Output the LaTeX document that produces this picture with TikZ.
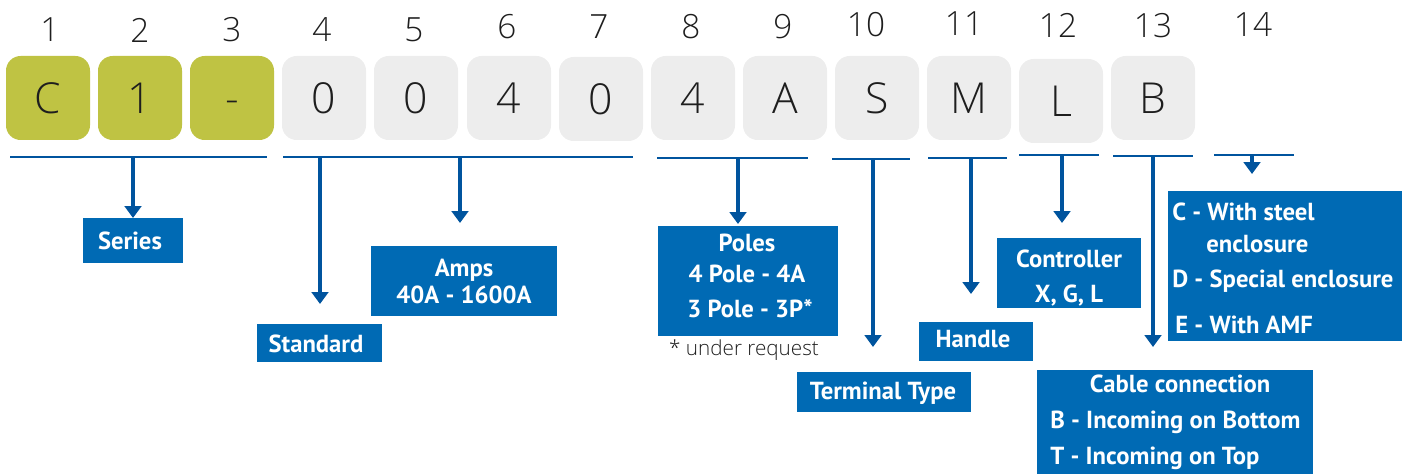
\documentclass[tikz,border=0pt]{standalone}
\usepackage{fontspec}
\setmainfont{PT Sans}
\IfFontExistsTF{Open Sans Light}{\newfontfamily\lightfont{Open Sans Light}}{%
  \IfFontExistsTF{Lato Light}{\newfontfamily\lightfont{Lato Light}}{%
    \IfFontExistsTF{DejaVu Sans ExtraLight}{\newfontfamily\lightfont{DejaVu Sans ExtraLight}}{%
      \newfontfamily\lightfont{Open Sans}}}}
\usetikzlibrary{arrows.meta}
\definecolor{kgreen}{RGB}{191,195,67}
\definecolor{kgray}{RGB}{237,237,237}
\definecolor{lblue}{RGB}{0,106,180}
\definecolor{ablue}{RGB}{0,84,158}
\definecolor{tgray}{RGB}{30,30,30}
\begin{document}
\begin{tikzpicture}[x=0.75pt,y=-0.75pt,
  digit/.style={font=\lightfont\fontsize{25}{25}\selectfont, text=tgray, inner sep=0pt},
  keybox/.style={rounded corners=11pt, minimum width=63pt, minimum height=63pt, inner sep=0pt,
    text height=23pt, text depth=0pt,
    font=\lightfont\fontsize{32}{32}\selectfont, text=tgray},
  keyg/.style={keybox, fill=kgreen},
  keyw/.style={keybox, fill=kgray},
  lbl/.style={fill=lblue, inner sep=0pt},
  ltxt/.style={text=white, font=\bfseries\fontsize{18.5}{21}\selectfont, inner sep=0pt, anchor=base},
  ltxtw/.style={ltxt, anchor=base west},
  bar/.style={draw=ablue, line width=1.5pt},
  drop/.style={draw=ablue, line width=2.6pt, -{Triangle[width=12.5pt,length=9pt]}},
]
\useasboundingbox (0,0) rectangle (1408,474);

% position numbers
\foreach \n/\x/\y in {1/50/30,2/140/30,3/232/30,4/322/30,5/414/30,6/507/27,7/599/27,8/691/27,9/783/27,10/866/25,11/964/24,12/1058/25,13/1153/26,14/1253/25}
  \node[digit] (num\n) at (\x,\y) {\n};

% key boxes
\node[keyg] (k1) at (48,98) {C};
\node[keyg] (k2) at (140,98) {1};
\node[keyg] (k3) at (232,98) {-};
\node[keyw] (k4) at (324,98) {0};
\node[keyw] (k5) at (416,98) {0};
\node[keyw] (k6) at (509,98) {4};
\node[keyw] (k7) at (601,99) {0};
\node[keyw] (k8) at (693,98) {4};
\node[keyw] (k9) at (785,98) {A};
\node[keyw] (k10) at (877,98) {S};
\node[keyw] (k11) at (969,98) {M};
\node[keyw] (k12) at (1061,101) {L};
\node[keyw] (k13) at (1153,98) {B};

% bracket lines
\coordinate (b1l) at (10,157);   \coordinate (b1r) at (267,157);
\coordinate (b2l) at (283,157);  \coordinate (b2r) at (633,157);
\coordinate (b3l) at (657,158);  \coordinate (b3r) at (808,158);
\coordinate (b4l) at (832,159);  \coordinate (b4r) at (910,159);
\coordinate (b5l) at (928,158);  \coordinate (b5r) at (1007,158);
\coordinate (b6l) at (1019,155); \coordinate (b6r) at (1099,155);
\coordinate (b7l) at (1113,156); \coordinate (b7r) at (1193,156);
\coordinate (b8l) at (1214,155); \coordinate (b8r) at (1294,155);
\foreach \i in {1,...,8} \draw[bar] (b\i l) -- (b\i r);

% label boxes
\node[lbl, minimum width=75pt, minimum height=33.75pt] (series) at (133,240.5) {};
\node[ltxt] at (130,249) {Series};

\node[lbl, minimum width=93.75pt, minimum height=28.5pt] (standard) at (319.5,343) {};
\node[ltxt] at (316,352) {Standard};

\node[lbl, minimum width=139.5pt, minimum height=52.5pt] (amps) at (464,281) {};
\node[ltxt] at (464,276) {Amps};
\node[ltxt] at (464,303) {40A - 1600A};

\node[lbl, minimum width=135pt, minimum height=82.5pt] (poles) at (748,281) {};
\node[ltxt] at (747,251) {Poles};
\node[ltxt] at (747,282) {4 Pole - 4A};
\node[ltxt] at (750,317) {3 Pole - 3P*};
\node[anchor=base, inner sep=0pt, text=tgray, font=\lightfont\fontsize{15.5}{17}\selectfont] (req) at (744,355) {* under request};

\node[lbl, minimum width=130.5pt, minimum height=30pt] (terminal) at (884,392) {};
\node[ltxt] at (883,399) {Terminal Type};

\node[lbl, minimum width=85.5pt, minimum height=29.25pt] (handle) at (976,341.5) {};
\node[ltxt] at (973,347) {Handle};

\node[lbl, minimum width=108pt, minimum height=52.5pt] (controller) at (1069,273) {};
\node[ltxt] at (1069,267) {Controller};
\node[ltxt] at (1069,302) {X, G, L};

\node[lbl, minimum width=207pt, minimum height=78pt] (cable) at (1175,422) {};
\node[ltxt] at (1180,392) {Cable connection};
\node[ltxtw] at (1050,428) {B - Incoming on Bottom};
\node[ltxtw] at (1050,464) {T - Incoming on Top};

\node[lbl, minimum width=175.5pt, minimum height=112.5pt] (encl) at (1285,266) {};
\node[ltxtw] at (1172,220) {C - With steel};
\node[ltxtw] at (1206,252) {enclosure};
\node[ltxtw] at (1172,287) {D - Special enclosure};
\node[ltxtw] at (1175,333) {E - With AMF};

% drops
\coordinate (d1s) at (133,157); \coordinate (d1e) at (133,218);
\coordinate (d2s) at (320,157); \coordinate (d2e) at (320,304);
\coordinate (d3s) at (460,157); \coordinate (d3e) at (460,223);
\coordinate (d4s) at (738,158); \coordinate (d4e) at (738,224);
\coordinate (d5s) at (873,159); \coordinate (d5e) at (873,347);
\coordinate (d6s) at (971,158); \coordinate (d6e) at (971,294);
\coordinate (d7s) at (1062,155); \coordinate (d7e) at (1062,223);
\coordinate (d8s) at (1153,156); \coordinate (d8e) at (1153,347);
\coordinate (d9s) at (1252,155); \coordinate (d9e) at (1252,174);
\foreach \i in {1,...,9} \draw[drop] (d\i s) -- (d\i e);
\end{tikzpicture}
\end{document}
